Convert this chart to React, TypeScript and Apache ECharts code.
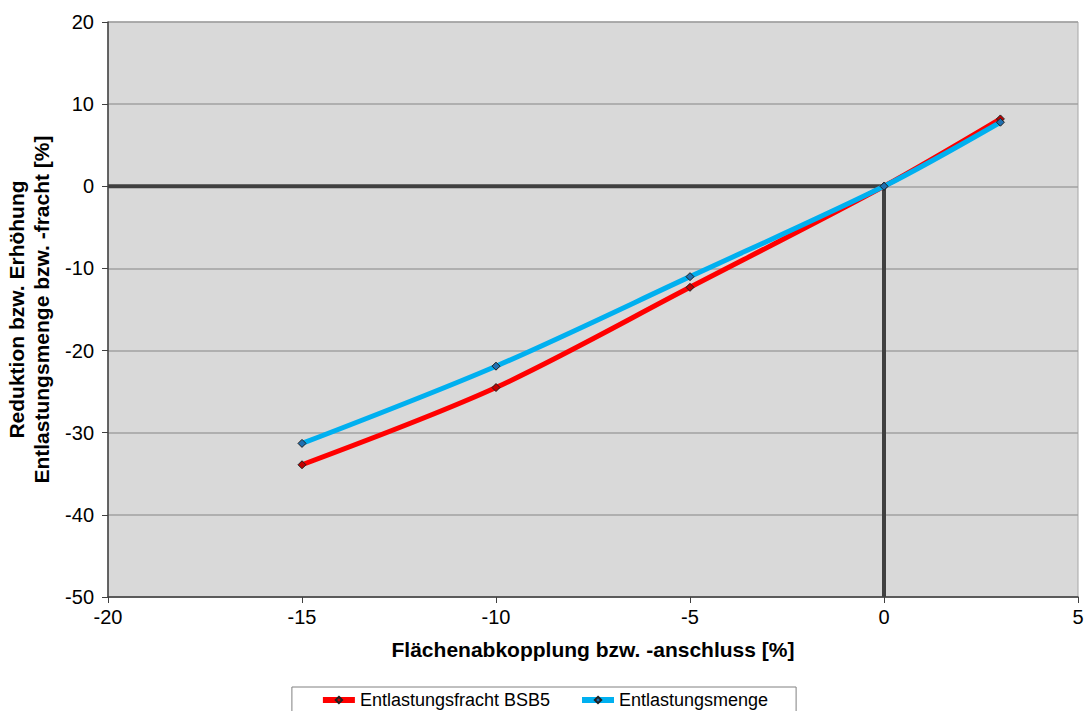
import React, { useEffect, useRef } from "react";
import * as echarts from "echarts";

const xValues = [-15, -10, -5, 0, 3];
const frachtValues = [-33.9, -24.5, -12.3, 0, 8.2];
const mengeValues = [-31.3, -21.9, -11.0, 0, 7.8];
const seriesNames = ["Entlastungsfracht BSB5", "Entlastungsmenge"];
const crossLine = [[-20, 0], [0, 0], [0, -50]];

export default function App() {
  const ref = useRef<HTMLDivElement>(null);
  useEffect(() => {
    const chart = echarts.init(ref.current!, null, { renderer: "svg" });
    const font = "'Liberation Sans', Arial, sans-serif";
    chart.setOption({
      animation: false,
      backgroundColor: "#ffffff",
      textStyle: { fontFamily: font },
      grid: {
        left: 108, right: 10, top: 22, bottom: 114,
        outerBoundsMode: "none", containLabel: false,
        show: true, backgroundColor: "#d9d9d9", borderColor: "#a6a6a6", borderWidth: 1,
      },
      legend: {
        bottom: -6,
        left: "center",
        data: seriesNames,
        itemWidth: 32,
        itemHeight: 8,
        itemGap: 29,
        borderColor: "#808080",
        borderWidth: 1,
        padding: [4, 28, 8, 28],
        lineStyle: { width: 6 },
        textStyle: { fontFamily: font, fontSize: 18, color: "#000" },
      },
      xAxis: {
        type: "value",
        min: -20,
        max: 5,
        interval: 5,
        name: "Flächenabkopplung bzw. -anschluss [%]",
        nameLocation: "middle",
        nameGap: 42,
        nameTextStyle: { fontFamily: font, fontSize: 21, fontWeight: "bold", color: "#000" },
        axisLine: { onZero: false, lineStyle: { color: "#404040", width: 1.5 } },
        axisTick: { show: true, length: 6, lineStyle: { color: "#404040" } },
        axisLabel: { fontFamily: font, fontSize: 20, color: "#000", margin: 10 },
        splitLine: { show: false },
      },
      yAxis: {
        type: "value",
        min: -50,
        max: 20,
        interval: 10,
        name: "Reduktion bzw. Erhöhung\nEntlastungsmenge bzw. -fracht [%]",
        nameLocation: "middle",
        nameGap: 50,
        nameTextStyle: { fontFamily: font, fontSize: 21, fontWeight: "bold", color: "#000", lineHeight: 25 },
        axisLine: { onZero: false, lineStyle: { color: "#404040", width: 1.5 } },
        axisTick: { show: true, length: 6, lineStyle: { color: "#404040" } },
        axisLabel: { fontFamily: font, fontSize: 20, color: "#000", margin: 14 },
        splitLine: { show: true, lineStyle: { color: "#a0a0a0", width: 1.5 } },
      },
      series: [
        {
          name: "cross",
          type: "line",
          data: crossLine,
          symbol: "none",
          silent: true,
          lineStyle: { color: "#404040", width: 4 },
          z: 1,
        },
        {
          name: seriesNames[0],
          type: "line",
          data: xValues.map((x, i) => [x, frachtValues[i]]),
          smooth: 0.3,
          symbol: "diamond",
          symbolSize: 8,
          color: "#ff0000",
          itemStyle: { color: "#c00000", borderColor: "#202020", borderWidth: 1 },
          lineStyle: { color: "#ff0000", width: 5 },
          z: 3,
        },
        {
          name: seriesNames[1],
          type: "line",
          data: xValues.map((x, i) => [x, mengeValues[i]]),
          smooth: 0.3,
          symbol: "diamond",
          symbolSize: 8,
          color: "#00b0f0",
          itemStyle: { color: "#1f6fb0", borderColor: "#202020", borderWidth: 1 },
          lineStyle: { color: "#00b0f0", width: 5 },
          z: 4,
        },
      ],
    });
    return () => chart.dispose();
  }, []);
  return <div ref={ref} style={{ width: 1088, height: 711, position: "absolute", left: 0, top: 0 }} />;
}
